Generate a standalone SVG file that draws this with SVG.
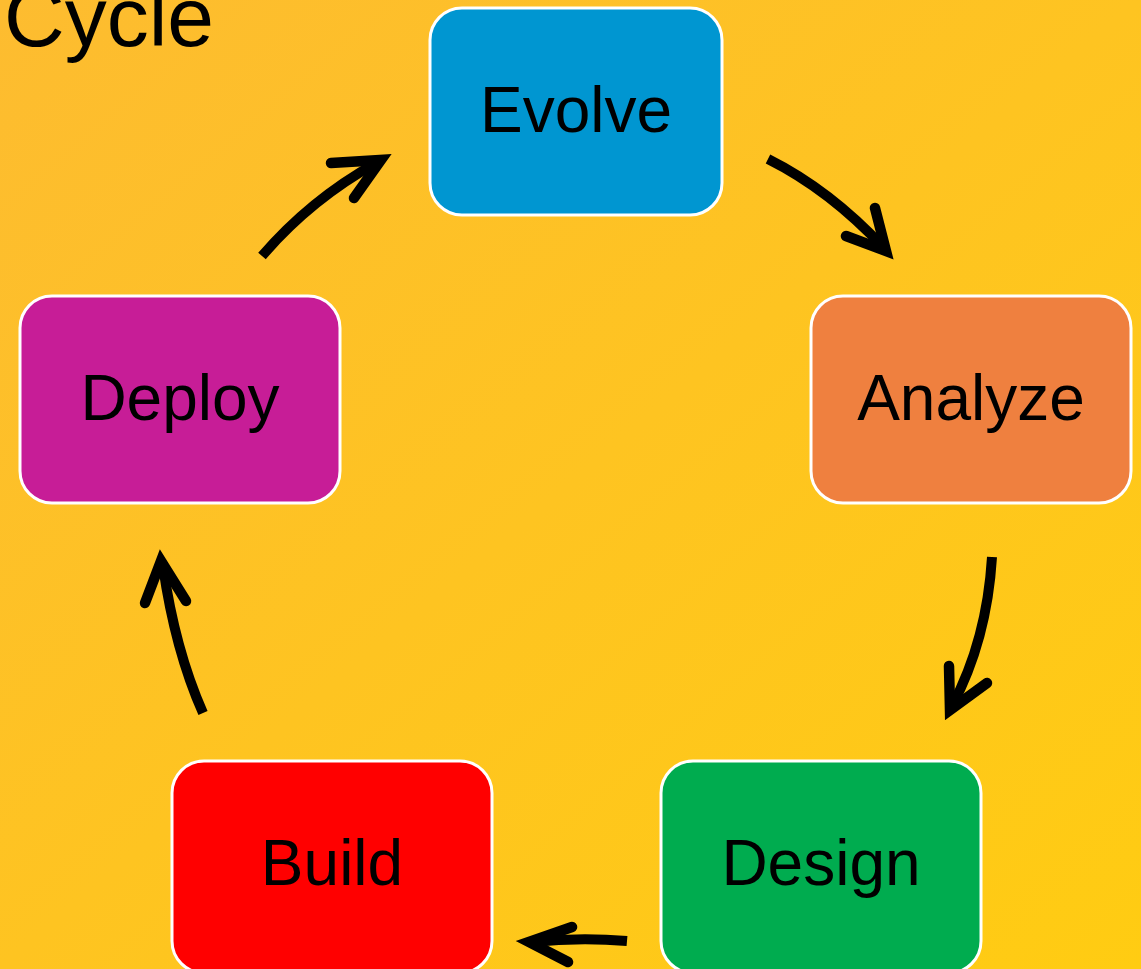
<svg xmlns="http://www.w3.org/2000/svg" width="1141" height="969" viewBox="0 0 1141 969">
<defs>
<linearGradient id="bg" x1="0" y1="0" x2="1" y2="1">
<stop offset="0" stop-color="#FDBC30"/>
<stop offset="1" stop-color="#FFCC12"/>
</linearGradient>
<style>
.box{stroke:#FFFFFF;stroke-width:3}
.lbl{font-family:"Liberation Sans",Arial,sans-serif;font-size:64px;fill:#000;text-anchor:middle}
.shaft{fill:none;stroke:#000;stroke-width:10}
.head{fill:none;stroke:#000;stroke-width:10.5;stroke-linecap:round;stroke-linejoin:miter;stroke-miterlimit:10}
</style>
</defs>
<rect x="0" y="0" width="1141" height="969" fill="url(#bg)"/>
<text x="4" y="46" class="lbl" style="text-anchor:start;font-size:84px">Cycle</text>
<g id="evolve"><rect class="box" x="430" y="8" width="292" height="207" rx="32" fill="#0096D1"/><text class="lbl" x="576" y="132">Evolve</text></g>
<g id="analyze"><rect class="box" x="811" y="296" width="320" height="207" rx="32" fill="#EF803F"/><text class="lbl" x="971" y="420">Analyze</text></g>
<g id="design"><rect class="box" x="661" y="761" width="320" height="212" rx="32" fill="#00AC4F"/><text class="lbl" x="821" y="885">Design</text></g>
<g id="build"><rect class="box" x="172" y="761" width="320" height="212" rx="32" fill="#FF0000"/><text class="lbl" x="332" y="885">Build</text></g>
<g id="deploy"><rect class="box" x="20" y="296" width="320" height="207" rx="32" fill="#C71D97"/><text class="lbl" x="180" y="420">Deploy</text></g>
<g id="connectors">
<path class="shaft" d="M262,256 Q310,200 376,163"/>
<polyline class="head" points="331,163 381,160 354,198"/>
<path class="shaft" d="M768,159 Q830,190 884,248"/>
<polyline class="head" points="875,208 886,251 846,236"/>
<path class="shaft" d="M992,557 Q987,640 952,706"/>
<polyline class="head" points="949,666 950,710 987,683"/>
<path class="shaft" d="M627,941 Q580,937 532,942"/>
<polyline class="head" points="572,927 529,942 568,962"/>
<path class="shaft" d="M203,713 Q175,650 163,566"/>
<polyline class="head" points="145,603 161,561 186,601"/>
</g>
</svg>
